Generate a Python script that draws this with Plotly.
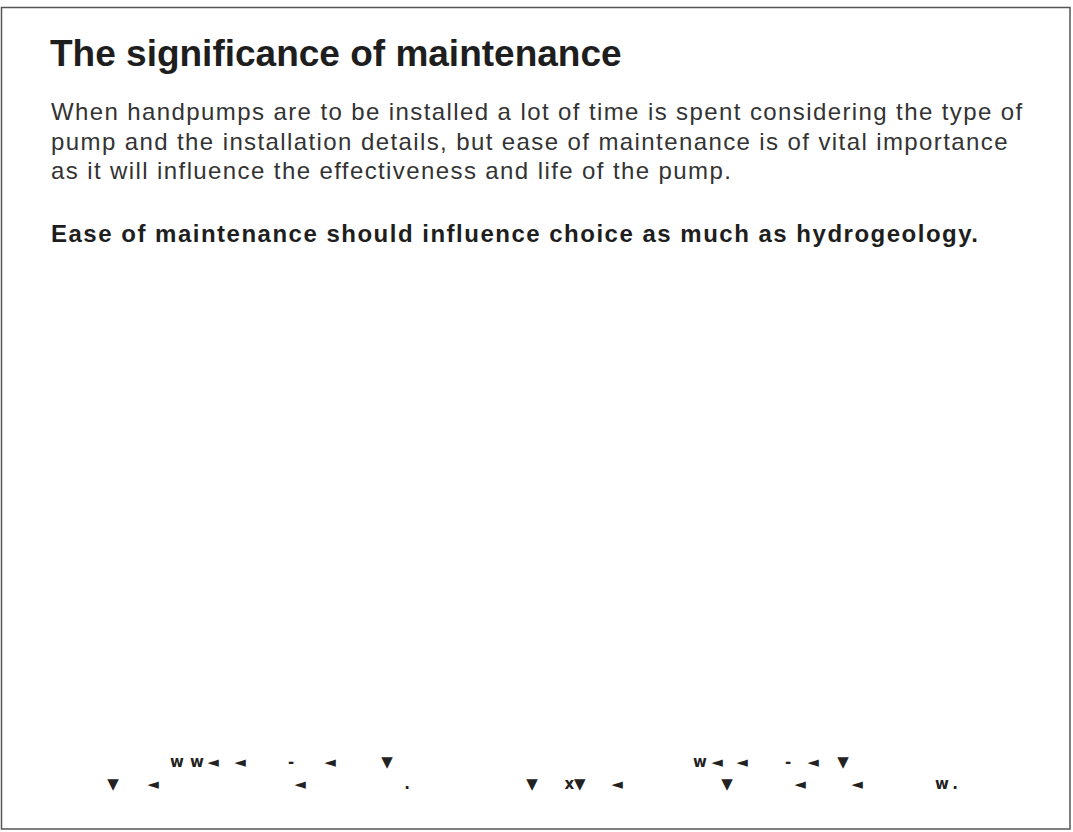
import plotly.graph_objects as go

title_text = "The significance of maintenance"
body_lines = [
    "When handpumps are to be installed a lot of time is spent considering the type of",
    "pump and the installation details, but ease of maintenance is of vital importance",
    "as it will influence the effectiveness and life of the pump.",
]
bold_line = "Ease of maintenance should influence choice as much as hydrogeology."

# garbled glyph fragments near the bottom of the slide (position in page pixels)
glyph_x = [177, 197, 213, 240, 291, 330, 387, 113, 153, 300, 407, 532,
           700, 717, 742, 788, 813, 843, 575, 617, 727, 800, 857, 942, 955]
glyph_y = [763, 763, 763, 763, 763, 763, 763, 785, 785, 785, 785, 785,
           763, 763, 763, 763, 763, 763, 785, 785, 785, 785, 785, 785, 785]
glyph_txt = ["w", "w", "◄", "◄", "-", "◄", "▼", "▼", "◄", "◄", ".", "▼",
             "w", "◄", "◄", "-", "◄", "▼", "x▼", "◄", "▼", "◄", "◄", "w", "."]

W, H = 1073, 832
fig = go.Figure()
fig.add_trace(go.Scatter(
    x=glyph_x, y=glyph_y, text=["<b>%s</b>" % g for g in glyph_txt], mode="text",
    textfont=dict(family="DejaVu Sans", size=15, color="#222"),
    hoverinfo="skip", showlegend=False,
))


def spaced(t, px):
    return '<span style="letter-spacing:%.2fpx">%s</span>' % (px, t)


X0 = 49
annotations = [dict(x=X0 - 1, y=53, text="<b>" + title_text + "</b>", showarrow=False,
                    xanchor="left", yanchor="middle",
                    font=dict(family="Liberation Sans", size=37, color="#1e1e1e"))]
line_y = [111, 141, 170]
for t, yy in zip(body_lines, line_y):
    annotations.append(dict(x=X0, y=yy, text=spaced(t, 1.4), showarrow=False,
                            xanchor="left", yanchor="middle",
                            font=dict(family="Liberation Sans", size=24, color="#333333")))
annotations.append(dict(x=X0, y=233, text="<b>" + spaced(bold_line, 1.5) + "</b>",
                        showarrow=False, xanchor="left", yanchor="middle",
                        font=dict(family="Liberation Sans", size=24, color="#1e1e1e")))

fig.update_layout(
    width=W, height=H, margin=dict(l=0, r=0, t=0, b=0),
    paper_bgcolor="white", plot_bgcolor="white",
    xaxis=dict(range=[0, W], visible=False, fixedrange=True),
    yaxis=dict(range=[H, 0], visible=False, fixedrange=True),
    annotations=annotations,
    shapes=[dict(type="rect", xref="x", yref="y", x0=1.5, y0=7.5, x1=1070, y1=829,
                 line=dict(color="#555", width=1.5))],
)
fig.write_html("out.html", config={"displayModeBar": False},
               post_script="document.body.style.margin='0';document.body.style.overflow='hidden';")
